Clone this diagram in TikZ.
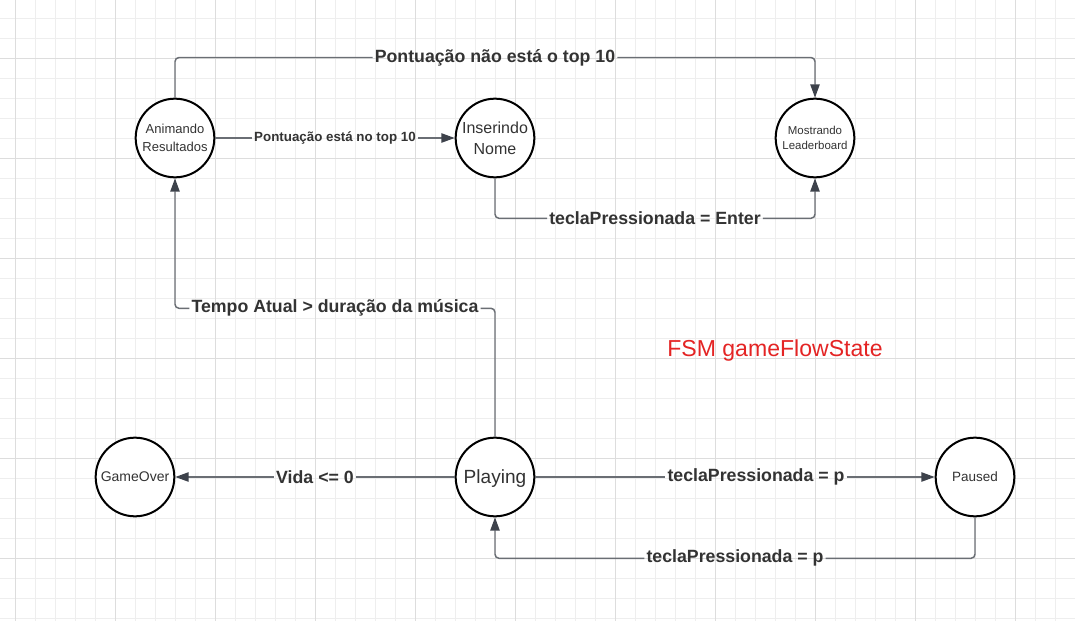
\documentclass[tikz,border=0pt]{standalone}
\usepackage{fontspec}
\setmainfont{Liberation Sans}
\usetikzlibrary{arrows.meta}
\definecolor{minorgrid}{HTML}{EEEEEE}
\definecolor{majorgrid}{HTML}{DDDDDD}
\definecolor{edgec}{HTML}{6A6E74}
\definecolor{tipc}{HTML}{3D424B}
\definecolor{labc}{HTML}{333333}
\definecolor{fsmred}{HTML}{E42424}
\begin{document}
\begin{tikzpicture}[x=0.75pt,y=-0.75pt,
  state/.style={circle,draw=black,line width=1.5pt,fill=white,minimum size=59pt,inner sep=0pt,align=center,text=labc},
  edge/.style={draw=edgec,line width=1.1pt,rounded corners=3pt},
  arr/.style={edge,-{Triangle[length=10pt,width=7pt,color=tipc]}},
  biglab/.style={font=\bfseries\fontsize{13.3}{15}\selectfont,text=labc,inner sep=1.5pt},
  smalllab/.style={font=\bfseries\fontsize{10}{12}\selectfont,text=labc,inner sep=1.5pt}
]
\useasboundingbox (0,0) rectangle (1075,621);
\fill[white] (0,0) rectangle (1075,621);
% grid
\foreach \k in {0,...,53} {\draw[minorgrid,line width=0.5pt] ({15.7+20*\k},0) -- ({15.7+20*\k},621);}
\foreach \k in {0,...,30} {\draw[minorgrid,line width=0.5pt] (0,{18.3+20*\k}) -- (1075,{18.3+20*\k});}
\foreach \k in {0,...,10} {\draw[majorgrid,line width=0.55pt] ({15.7+100*\k},0) -- ({15.7+100*\k},621);}
\foreach \k in {0,...,5} {\draw[majorgrid,line width=0.55pt] (0,{58.3+100*\k}) -- (1075,{58.3+100*\k});}

% states
\node[state,font=\fontsize{9.75}{13.5}\selectfont] (ar) at (175,138) {Animando\\Resultados};
\node[state,font=\fontsize{12}{15.75}\selectfont] (in) at (495,138) {Inserindo\\Nome};
\node[state,font=\fontsize{8.6}{11.8}\selectfont] (ml) at (815,138) {Mostrando\\Leaderboard};
\node[state,font=\fontsize{10.5}{12}\selectfont] (go) at (135,477) {GameOver};
\node[state,font=\fontsize{14.3}{16}\selectfont,text height=10.2pt,text depth=0pt] (pl) at (495,477) {Playing};
\node[state,font=\fontsize{10.1}{12}\selectfont] (pa) at (975,477) {Paused};

% labels
\node[biglab] (l1) at (495,57.5) {Pontuação não está o top 10};
\node[smalllab] (l2) at (335,138) {Pontuação está no top 10};
\node[biglab] (l3) at (655,218.3) {teclaPressionada = Enter};
\node[biglab] (l4) at (335,308.3) {Tempo Atual > duração da música};
\node[biglab] (l5) at (315,477) {Vida <= 0};
\node[biglab] (l6) at (756,477) {teclaPressionada = p};
\node[biglab] (l7) at (735,558.3) {teclaPressionada = p};

\node[font=\fontsize{17.3}{20}\selectfont,text=fsmred] (title) at (775,351) {FSM gameFlowState};

% connectors
\draw[edge] (ar.north) |- (l1.west);
\draw[arr] (l1.east) -| (ml.north);
\draw[edge] (ar.east) -- (l2.west);
\draw[arr] (l2.east) -- (in.west);
\draw[edge] (in.south) |- (l3.west);
\draw[arr] (l3.east) -| (ml.south);
\draw[edge] (pl.north) |- (l4.east);
\draw[arr] (l4.west) -| (ar.south);
\draw[edge] (pl.west) -- (l5.east);
\draw[arr] (l5.west) -- (go.east);
\draw[edge] (pl.east) -- (l6.west);
\draw[arr] (l6.east) -- (pa.west);
\draw[edge] (pa.south) |- (l7.east);
\draw[arr] (l7.west) -| (pl.south);
\end{tikzpicture}
\end{document}
